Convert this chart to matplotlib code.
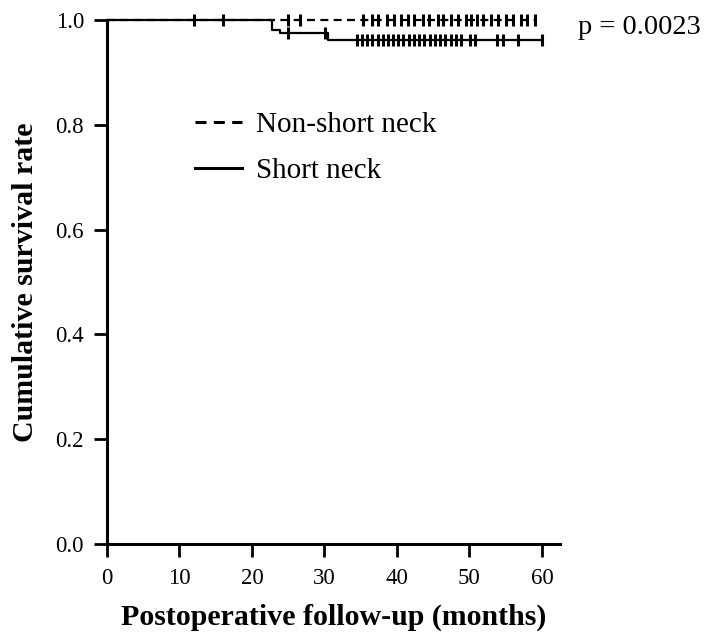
import numpy as np
import matplotlib
matplotlib.use("Agg")
import matplotlib.pyplot as plt

# ---- Data ----
# Short neck: step times (months) and survival after each step
short_times = [0, 22.8, 23.9, 30.5, 60.0]
short_surv = [1.0, 0.981, 0.975, 0.962, 0.962]
short_censor = [25.0, 30.1,
                34.5, 35.2, 35.9, 36.6, 37.4, 38.1, 38.8, 39.5, 40.2, 40.9,
                41.7, 42.4, 43.1, 43.8, 44.5, 45.3, 46.0, 46.7, 47.4, 48.1,
                48.9, 50.1, 50.8, 53.8, 54.6, 56.7, 60.0]

# Non-short neck: no events
nonshort_times = [0, 59.3]
nonshort_surv = [1.0, 1.0]
nonshort_censor = [12.0, 16.0, 25.0, 26.6,
                   35.3, 36.6, 37.4, 38.6, 39.6, 40.5, 41.5, 42.4, 43.6, 44.4,
                   45.6, 46.4, 47.5, 48.4, 49.5, 50.2, 51.0, 51.9, 53.0, 54.0,
                   55.1, 56.0, 57.1, 58.0, 59.0]

p_text = "p = 0.0023"
xticks = [0, 10, 20, 30, 40, 50, 60]
yticks = [0.0, 0.2, 0.4, 0.6, 0.8, 1.0]

plt.rcParams["font.family"] = ["Liberation Serif", "DejaVu Serif"]

fig = plt.figure(figsize=(7.08, 6.33), dpi=100)
ax = fig.add_axes([107 / 708, 89 / 633, (560 - 107) / 708, 524 / 633])


def surv_at(times, surv, t):
    idx = np.searchsorted(times, t, side="right") - 1
    return np.array(surv)[idx]


LW = 1.6
ax.step(nonshort_times, nonshort_surv, where="post", color="black", lw=LW,
        dashes=(3.6, 2.4), label="Non-short neck", clip_on=False)
ax.step(short_times, short_surv, where="post", color="black", lw=LW,
        label="Short neck", clip_on=False)

ax.plot(nonshort_censor, [surv_at(nonshort_times, nonshort_surv, t) for t in nonshort_censor],
        ls="none", marker="|", ms=9, mew=2.2, color="black", clip_on=False)
ax.plot(short_censor, [surv_at(short_times, short_surv, t) for t in short_censor],
        ls="none", marker="|", ms=9, mew=2.2, color="black", clip_on=False)

ax.set_xlim(0, 62.5)
ax.set_ylim(0, 1.0)
ax.set_xticks(xticks)
ax.set_yticks(yticks)
ax.set_yticklabels([f"{v:.1f}" for v in yticks])

for s in ("top", "right"):
    ax.spines[s].set_visible(False)
for s in ("left", "bottom"):
    ax.spines[s].set_linewidth(2.2)
ax.tick_params(axis="both", direction="out", length=9.5, width=2.0, labelsize=16.5)
ax.tick_params(axis="x", pad=8)
ax.tick_params(axis="y", pad=7)

ax.set_xlabel("Postoperative follow-up (months)", fontsize=21.5, fontweight="bold", labelpad=10)
ax.set_ylabel("Cumulative survival rate", fontsize=21.5, fontweight="bold", labelpad=12)

leg = ax.legend(loc="upper left", bbox_to_anchor=(0.194, 0.825), frameon=False,
                fontsize=21, handlelength=1.6, handletextpad=0.5, labelspacing=0.66,
                borderpad=0, borderaxespad=0)
for h in leg.get_lines():
    h.set_linewidth(2.2)

fig.text(578 / 708, 1 - 28 / 633, p_text, fontsize=20.5, va="center", ha="left")

plt.savefig("out.png", dpi=100, facecolor="white")
